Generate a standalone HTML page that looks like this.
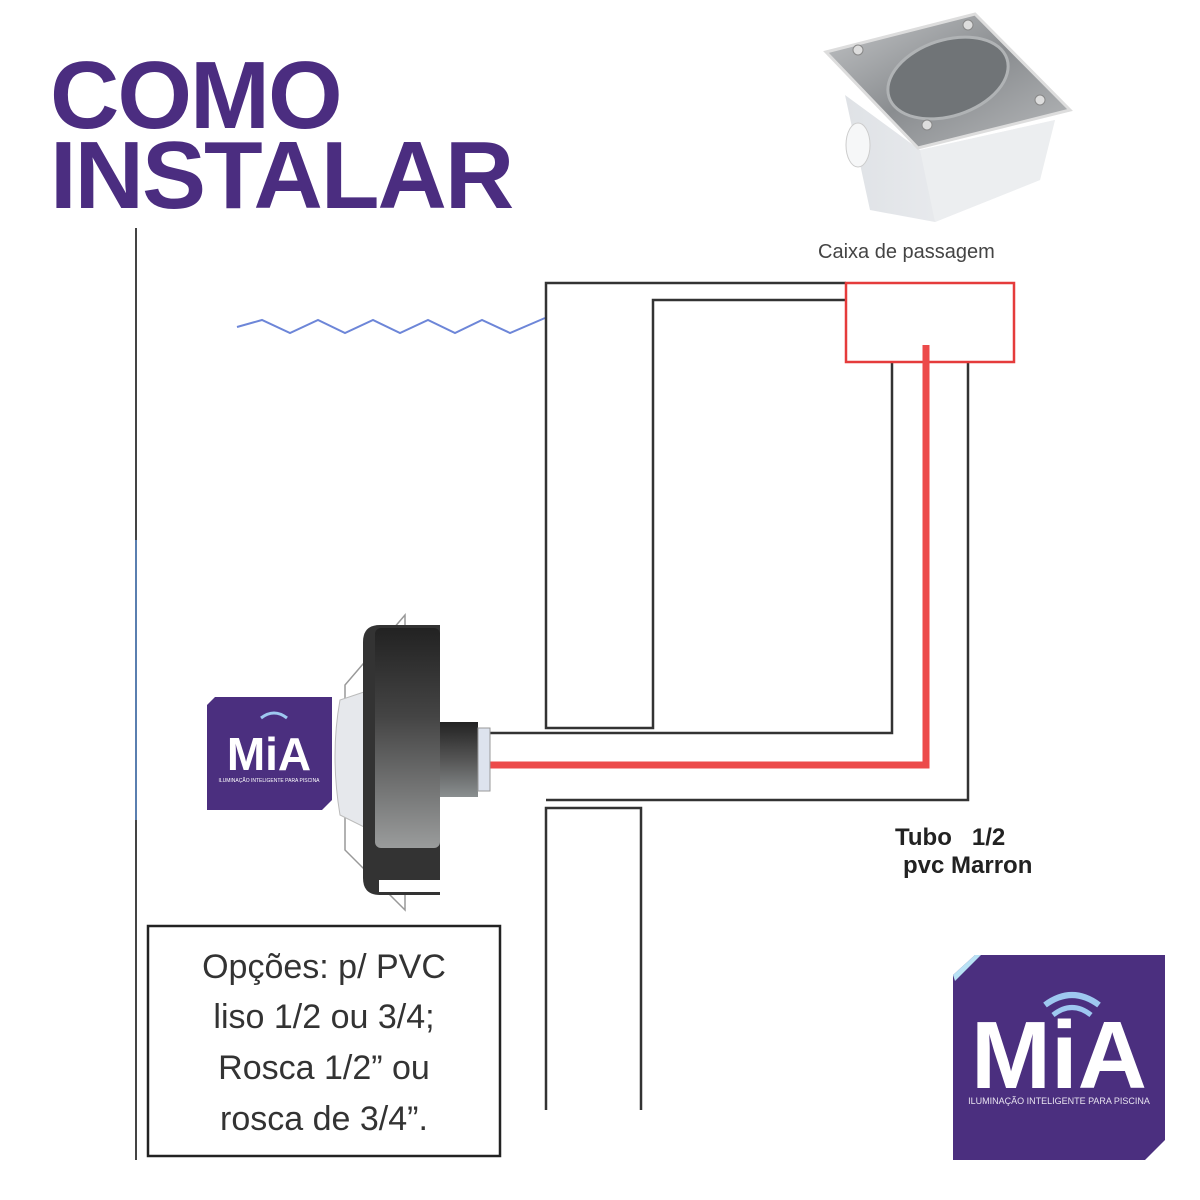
<!DOCTYPE html>
<html><head><meta charset="utf-8"><style>
body{margin:0;width:1200px;height:1200px;background:#fff;position:relative;overflow:hidden;font-family:"Liberation Sans",sans-serif}
.t{position:absolute;color:#4b2d80;font-weight:bold;font-size:96px;letter-spacing:-2px;line-height:1}
</style></head><body>
<div class="t" style="left:50px;top:48px">COMO</div>
<div class="t" style="left:50px;top:128px">INSTALAR</div>
<svg width="1200" height="1200" style="position:absolute;left:0;top:0">
<defs>
<linearGradient id="g1" x1="0" y1="0" x2="0" y2="1"><stop offset="0" stop-color="#222"/><stop offset="0.5" stop-color="#555"/><stop offset="1" stop-color="#8a8f90"/></linearGradient>
<linearGradient id="g2" x1="0" y1="0" x2="0" y2="1"><stop offset="0" stop-color="#222"/><stop offset="0.4" stop-color="#444"/><stop offset="1" stop-color="#9a9c9c"/></linearGradient>
<linearGradient id="st" x1="0" y1="0" x2="1" y2="1"><stop offset="0" stop-color="#c4c6c8"/><stop offset="0.5" stop-color="#8a8d90"/><stop offset="1" stop-color="#b8babc"/></linearGradient>
<linearGradient id="bw" x1="0" y1="0" x2="1" y2="0"><stop offset="0" stop-color="#dfe2e6"/><stop offset="1" stop-color="#f2f3f5"/></linearGradient>
</defs>
<line x1="136" y1="228" x2="136" y2="1160" stroke="#444" stroke-width="2"/>
<line x1="136" y1="540" x2="136" y2="820" stroke="#5a7fb0" stroke-width="2"/>
<polyline points="237,327 262,320 290,333 318,320 345,333 373,320 400,333 428,320 455,333 482,320 510,333 545,318" fill="none" stroke="#6d86d8" stroke-width="2"/>
<g fill="none" stroke="#333" stroke-width="2.5">
<polyline points="846,283 546,283 546,728 653,728 653,300 846,300"/>
<polyline points="892,362 892,733 490,733"/>
<polyline points="968,362 968,800 546,800"/>
<polyline points="546,1110 546,808 641,808 641,1110"/>
</g>
<rect x="846" y="283" width="168" height="79" fill="none" stroke="#e53b3b" stroke-width="2.5"/>
<polyline points="490,765 926,765 926,345" fill="none" stroke="#ec4a4a" stroke-width="7"/>
<!-- lamp -->
<polygon points="405,615 345,685 345,850 405,910" fill="none" stroke="#999" stroke-width="1.5"/>
<path d="M340,700 Q330,755 340,815 L370,830 L370,690Z" fill="#e6e8ec" stroke="#bbb"/>
<path d="M380,625 L440,625 L440,895 L380,895 Q363,895 363,878 L363,642 Q363,625 380,625Z" fill="#333"/>
<rect x="375" y="628" width="65" height="220" rx="6" fill="url(#g2)"/>
<rect x="379" y="880" width="61" height="12" fill="#fff"/>
<rect x="440" y="722" width="38" height="75" fill="url(#g1)"/>
<rect x="478" y="728" width="12" height="63" fill="#dde3ee" stroke="#999"/>
<!-- small logo -->
<polygon points="215,697 332,697 332,800 322,810 207,810 207,705" fill="#4b2f7f"/>
<text x="269" y="770" text-anchor="middle" fill="#fff" font-weight="bold" font-size="46" font-family="Liberation Sans,sans-serif">MiA</text>
<text x="269" y="782" text-anchor="middle" fill="#fff" font-size="5" font-family="Liberation Sans,sans-serif">ILUMINAÇÃO INTELIGENTE PARA PISCINA</text>
<path d="M261,718 Q274,708 287,718" fill="none" stroke="#9ec8f0" stroke-width="3"/>
<!-- big logo -->
<polygon points="975,955 1165,955 1165,1140 1145,1160 953,1160 953,975" fill="#4b2f7f"/>
<polygon points="953,975 975,955 981,955 955,981" fill="#b9e2f5"/>
<text x="1059" y="1088" text-anchor="middle" fill="#fff" font-weight="bold" font-size="96" font-family="Liberation Sans,sans-serif">MiA</text>
<text x="1059" y="1104" text-anchor="middle" fill="#e8e4f0" font-size="9" font-family="Liberation Sans,sans-serif">ILUMINAÇÃO INTELIGENTE PARA PISCINA</text>
<path d="M1045,1005 Q1072,985 1099,1005" fill="none" stroke="#9ec8f0" stroke-width="6"/>
<path d="M1053,1015 Q1072,1000 1091,1015" fill="none" stroke="#9ec8f0" stroke-width="5"/>
<!-- box photo -->
<polygon points="845,95 870,210 935,222 1040,180 1055,120 920,150" fill="url(#bw)"/>
<polygon points="920,150 935,222 1040,180 1055,120" fill="#eceef0"/>
<ellipse cx="858" cy="145" rx="12" ry="22" fill="#f6f7f8" stroke="#ccc"/>
<polygon points="826,52 975,14 1070,110 918,148" fill="url(#st)" stroke="#ddd" stroke-width="3"/>
<ellipse cx="948" cy="78" rx="62" ry="38" transform="rotate(-18 948 78)" fill="#707477" stroke="#b0b3b5" stroke-width="3"/>
<g fill="#ddd" stroke="#888"><circle cx="858" cy="50" r="5"/><circle cx="968" cy="25" r="5"/><circle cx="1040" cy="100" r="5"/><circle cx="927" cy="125" r="5"/></g>
<text x="818" y="258" font-size="20" fill="#444" font-family="Liberation Sans,sans-serif">Caixa de passagem</text>
<text x="895" y="845" font-size="24" font-weight="bold" fill="#222" font-family="Liberation Sans,sans-serif" xml:space="preserve">Tubo   1/2</text>
<text x="903" y="873" font-size="24" font-weight="bold" fill="#222" font-family="Liberation Sans,sans-serif">pvc Marron</text>
<rect x="148" y="926" width="352" height="230" fill="#fff" stroke="#222" stroke-width="2.5"/>
<g font-size="34" fill="#333" text-anchor="middle" font-family="Liberation Sans,sans-serif">
<text x="324" y="978">Opções: p/ PVC</text>
<text x="324" y="1028">liso 1/2 ou 3/4;</text>
<text x="324" y="1079">Rosca 1/2” ou</text>
<text x="324" y="1130">rosca de 3/4”.</text>
</g>
</svg>
</body></html>
